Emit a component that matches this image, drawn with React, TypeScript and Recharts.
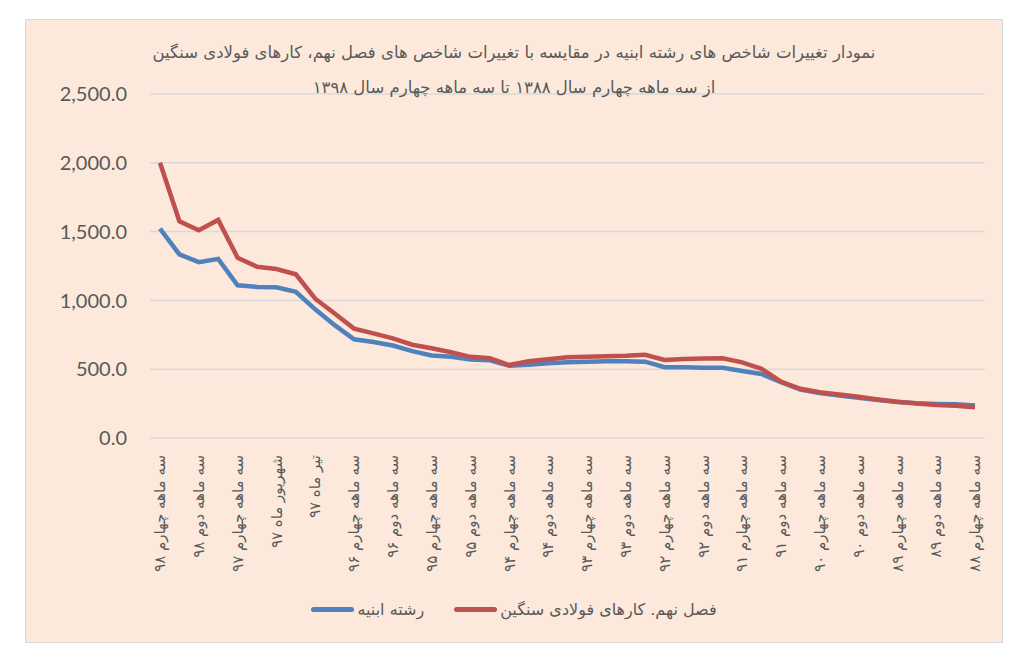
import { LineChart, Line, XAxis, YAxis, CartesianGrid } from 'recharts'

// newest quarter first, as in the source sheet
const categories = [
  'سه ماهه چهارم ۹۸', 'سه ماهه سوم ۹۸', 'سه ماهه دوم ۹۸', 'سه ماهه اول ۹۸',
  'سه ماهه چهارم ۹۷', 'سه ماهه سوم ۹۷', 'شهریور ماه ۹۷', 'مرداد ماه ۹۷', 'تیر ماه ۹۷', 'سه ماهه اول ۹۷',
  'سه ماهه چهارم ۹۶', 'سه ماهه سوم ۹۶', 'سه ماهه دوم ۹۶', 'سه ماهه اول ۹۶',
  'سه ماهه چهارم ۹۵', 'سه ماهه سوم ۹۵', 'سه ماهه دوم ۹۵', 'سه ماهه اول ۹۵',
  'سه ماهه چهارم ۹۴', 'سه ماهه سوم ۹۴', 'سه ماهه دوم ۹۴', 'سه ماهه اول ۹۴',
  'سه ماهه چهارم ۹۳', 'سه ماهه سوم ۹۳', 'سه ماهه دوم ۹۳', 'سه ماهه اول ۹۳',
  'سه ماهه چهارم ۹۲', 'سه ماهه سوم ۹۲', 'سه ماهه دوم ۹۲', 'سه ماهه اول ۹۲',
  'سه ماهه چهارم ۹۱', 'سه ماهه سوم ۹۱', 'سه ماهه دوم ۹۱', 'سه ماهه اول ۹۱',
  'سه ماهه چهارم ۹۰', 'سه ماهه سوم ۹۰', 'سه ماهه دوم ۹۰', 'سه ماهه اول ۹۰',
  'سه ماهه چهارم ۸۹', 'سه ماهه سوم ۸۹', 'سه ماهه دوم ۸۹', 'سه ماهه اول ۸۹',
  'سه ماهه چهارم ۸۸',
]

const abniyeValues = [
  1522, 1334, 1278, 1302, 1110, 1098, 1095, 1062, 935, 820,
  717, 697, 672, 631, 600, 590, 570, 565, 525, 532,
  543, 551, 555, 558, 558, 555, 515, 515, 510, 510,
  487, 465, 405, 352, 326, 308, 292, 276, 262, 252,
  248, 246, 236,
]

const steelValues = [
  2000, 1575, 1510, 1585, 1310, 1245, 1228, 1190, 1012, 905,
  795, 760, 724, 678, 652, 623, 590, 580, 530, 558,
  572, 587, 590, 595, 598, 605, 567, 575, 578, 580,
  550, 503, 410, 358, 333, 316, 299, 280, 264, 251,
  239, 234, 224,
]

const yTicks = [0, 500, 1000, 1500, 2000, 2500]

const titleLines = [
  'نمودار تغییرات شاخص های رشته ابنیه در مقایسه با تغییرات شاخص های فصل نهم، کارهای فولادی سنگین',
  'از سه ماهه چهارم سال ۱۳۸۸ تا سه ماهه چهارم سال ۱۳۹۸',
]

const abniyeName = 'رشته ابنیه'
const steelName = 'فصل نهم. کارهای فولادی سنگین'

const chartData = categories.map((name, i) => ({
  name,
  abniye: abniyeValues[i],
  steel: steelValues[i],
}))

const persianFont = '"DejaVu Sans", sans-serif'
const textColor = '#595959'
const blue = '#4F81BD'
const red = '#C0504D'

function QuarterTick({ x, y, payload }: any) {
  return (
    <text
      transform={`translate(${x},${y + 15}) rotate(-90)`}
      textAnchor="end"
      dy="0.35em"
      fontSize={15}
      fill={textColor}
      fontFamily={persianFont}
    >
      {payload.value}
    </text>
  )
}

function LegendItem({ color, label }: { color: string; label: string }) {
  return (
    <div style={{ display: 'flex', alignItems: 'center' }}>
      <div style={{ width: 43, height: 5, borderRadius: 3, background: color, marginRight: 3 }} />
      <span dir="rtl" style={{ fontFamily: persianFont, fontSize: 16, color: textColor }}>{label}</span>
    </div>
  )
}

export default function App() {
  return (
    <div style={{ position: 'relative', width: 1008, height: 640 }}>
      <div
        style={{
          position: 'absolute',
          left: 17,
          top: 11,
          width: 978,
          height: 624,
          boxSizing: 'border-box',
          border: '1px solid #D9D9D9',
          background: '#FCE9DB',
        }}
      >
        <LineChart
          width={976}
          height={622}
          data={chartData}
          margin={{ top: 74, right: 17, left: 0, bottom: 0 }}
        >
          <CartesianGrid vertical={false} stroke="#D9D9D9" strokeWidth={1.5} />
          <XAxis
            dataKey="name"
            interval={1}
            height={204}
            padding={{ left: 10, right: 10 }}
            axisLine={false}
            tickLine={false}
            tickSize={0}
            tick={<QuarterTick />}
          />
          <YAxis
            width={124}
            domain={[0, 2500]}
            ticks={yTicks}
            axisLine={false}
            tickLine={false}
            tickSize={0}
            tickMargin={23}
            tick={{ fontSize: 20, fill: textColor, fontFamily: 'Lato, sans-serif' }}
            tickFormatter={(v: number) => v.toLocaleString('en-US', { minimumFractionDigits: 1, maximumFractionDigits: 1 })}
          />
          <Line dataKey="abniye" name={abniyeName} stroke={blue} strokeWidth={4.5} dot={false} isAnimationActive={false} />
          <Line dataKey="steel" name={steelName} stroke={red} strokeWidth={4.5} dot={false} isAnimationActive={false} />
        </LineChart>

        <div
          dir="rtl"
          style={{
            position: 'absolute',
            top: 15,
            left: 0,
            width: 976,
            textAlign: 'center',
            fontFamily: persianFont,
            fontSize: 16.5,
            lineHeight: '35px',
            color: textColor,
          }}
        >
          {titleLines.map((t) => (
            <div key={t}>{t}</div>
          ))}
        </div>

        <div
          style={{
            position: 'absolute',
            top: 580,
            left: 0,
            width: 976,
            display: 'flex',
            justifyContent: 'center',
            gap: 30,
          }}
        >
          <LegendItem color={blue} label={abniyeName} />
          <LegendItem color={red} label={steelName} />
        </div>
      </div>
    </div>
  )
}
